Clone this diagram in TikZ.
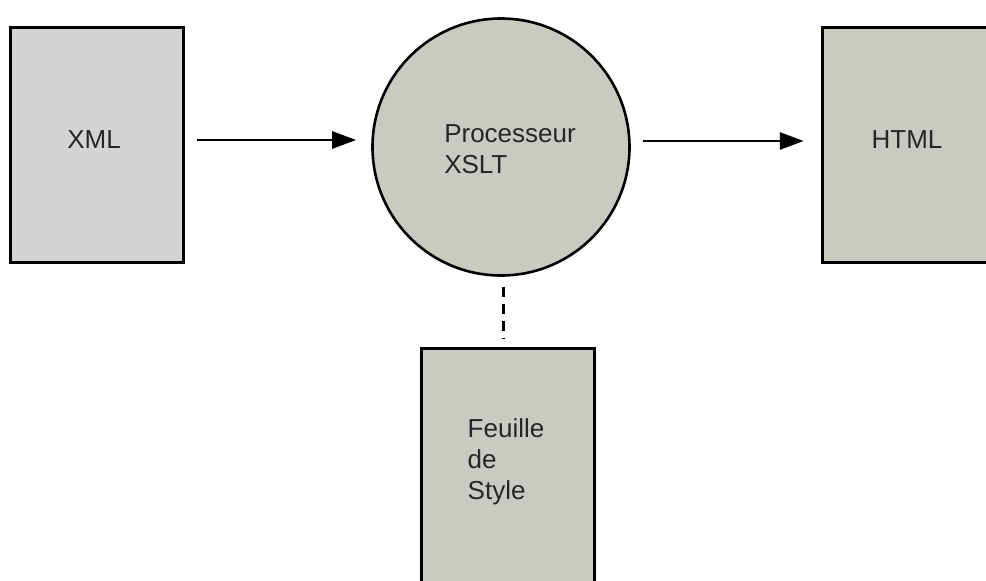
\documentclass[tikz,border=0pt]{standalone}
\usepackage{fontspec}
\setmainfont{Liberation Sans}
\usetikzlibrary{arrows.meta}
\definecolor{boxgray}{RGB}{202,202,195}
\definecolor{xmlgray}{RGB}{212,212,212}
\tikzset{
  doc/.style={draw=black, line width=3.5pt, minimum width=173pt, minimum height=235pt, inner sep=0pt},
  lbl/.style={font=\fontsize{26}{31}\selectfont, text=black!85},
  arr/.style={line width=2.8pt, -{Triangle[length=24pt,width=17pt]}},
  dashline/.style={line width=3pt, dash pattern=on 10pt off 7pt}
}
\begin{document}
\begin{tikzpicture}[x=1pt,y=-1pt]
\useasboundingbox (0,0) rectangle (986,581);
\clip (0,0) rectangle (986,581);
\node[doc, fill=xmlgray] (xml) at (97,145) {};
\node[lbl] at (94,140) {XML};
\node[doc, fill=boxgray] (html) at (909,145) {};
\node[lbl] at (907,140) {HTML};
\node[circle, draw=black, line width=2.6pt, fill=boxgray, minimum size=257pt, inner sep=0pt] (proc) at (501,147) {};
\node[lbl, align=left] at (510,149) {Processeur\\XSLT};
\node[doc, fill=boxgray] (style) at (508,466) {};
\node[lbl, align=left] at (506,462) {Feuille\\de\\Style};
\draw[arr, shorten <=12pt, shorten >=15pt] (xml.east |- 0,140) -- (proc.west |- 0,140);
\draw[arr, shorten <=12pt, shorten >=17pt] (proc.east |- 0,141) -- (html.west |- 0,141);
\draw[dashline, shorten <=10pt, shorten >=8pt] (proc.south -| 503,0) -- (style.north -| 503,0);
\end{tikzpicture}
\end{document}
